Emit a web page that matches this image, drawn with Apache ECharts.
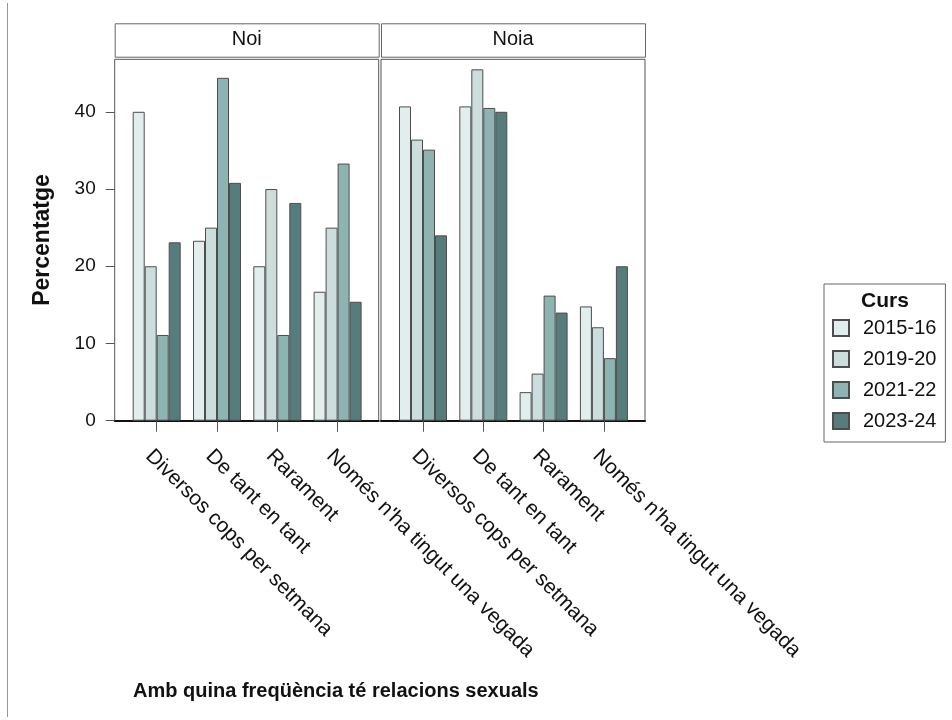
<!DOCTYPE html>
<html>
<head>
<meta charset="utf-8">
<script src="https://cdn.jsdelivr.net/npm/echarts@6/dist/echarts.min.js"></script>
<style>
html,body{margin:0;padding:0;background:#fff;}
#c{width:952px;height:720px;}
</style>
</head>
<body>
<div id="c"></div>
<script>
var categories = ['Diversos cops per setmana', 'De tant en tant', 'Rarament', "Només n'ha tingut una vegada"];
var panels = ['Noi', 'Noia'];
var courses = ['2015-16', '2019-20', '2021-22', '2023-24'];
var yTicks = [0, 10, 20, 30, 40];
var yTitle = 'Percentatge';
var xTitle = 'Amb quina freqüència té relacions sexuals';
var legendTitle = 'Curs';

// values per course, per category
var noi_2015 = [40.0, 23.3, 20.0, 16.7];
var noi_2019 = [20.0, 25.0, 30.0, 25.0];
var noi_2021 = [11.1, 44.4, 11.1, 33.3];
var noi_2023 = [23.1, 30.8, 28.2, 15.4];
var noia_2015 = [40.7, 40.7, 3.7, 14.8];
var noia_2019 = [36.4, 45.5, 6.1, 12.1];
var noia_2021 = [35.1, 40.5, 16.2, 8.1];
var noia_2023 = [24.0, 40.0, 14.0, 20.0];

var colors = ['#e2eeee', '#cbdddc', '#8db4b1', '#567d7b'];
var FONT = 'Arial, "Liberation Sans", sans-serif';
var YMAX = 46.8;

var panelData = [
  [noi_2015, noi_2019, noi_2021, noi_2023],
  [noia_2015, noia_2019, noia_2021, noia_2023]
];

var frameLeft = [114.7, 381];
var frameW = 264;
var frameTop = 59.3;
var frameH = 361.4;
var inset = 11.85;
var bandW = 60.3;

var grids = [], xAxes = [], yAxes = [], series = [], graphics = [];

for (var p = 0; p < 2; p++) {
  // frame grid
  grids.push({left: frameLeft[p], top: frameTop, width: frameW, height: frameH,
    show: true, borderColor: '#555', borderWidth: 1, backgroundColor: '#fff'});
  xAxes.push({type: 'value', gridIndex: 2 * p, min: 0, max: 1, show: true,
    axisLine: {show: true, onZero: false, lineStyle: {color: '#111', width: 2}},
    axisTick: {show: false}, axisLabel: {show: false}, splitLine: {show: false}});
  yAxes.push({type: 'value', gridIndex: 2 * p, min: 0, max: YMAX,
    axisLine: {show: false},
    axisTick: {show: p === 0, length: 9, customValues: yTicks, lineStyle: {color: '#555'}},
    axisLabel: {show: p === 0, fontSize: 19, color: '#111', fontFamily: FONT, margin: 19,
      customValues: yTicks},
    splitLine: {show: false}});
  // data grid
  grids.push({left: frameLeft[p] + inset, top: frameTop, width: bandW * 4, height: frameH});
  xAxes.push({type: 'category', gridIndex: 2 * p + 1, data: categories,
    axisLine: {show: false},
    axisTick: {show: true, alignWithLabel: true, length: 11, lineStyle: {color: '#555'}},
    axisLabel: {rotate: -45, fontSize: 21, color: '#111', fontFamily: FONT, margin: 40, interval: 0,
      padding: [0, 0, 0, -11]},
    splitLine: {show: false}});
  yAxes.push({type: 'value', gridIndex: 2 * p + 1, min: 0, max: YMAX, show: false, splitLine: {show: false}});
  for (var s = 0; s < 4; s++) {
    series.push({type: 'bar', name: courses[s], xAxisIndex: 2 * p + 1, yAxisIndex: 2 * p + 1,
      data: panelData[p][s], barWidth: 12, barGap: '0%',
      itemStyle: {color: colors[s], borderColor: '#4d4d4d', borderWidth: 1},
      emphasis: {disabled: true}});
  }
  // strip
  graphics.push({type: 'rect', left: frameLeft[p], top: 23.3,
    shape: {width: frameW, height: 33.4},
    style: {fill: '#fff', stroke: '#666', lineWidth: 1}});
  graphics.push({type: 'text', x: frameLeft[p] + frameW / 2, y: 39,
    style: {text: panels[p], fill: '#111', font: '20px ' + FONT, textAlign: 'center', textVerticalAlign: 'middle'}});
}

graphics.push({type: 'text', x: 42.5, y: 240, rotation: Math.PI / 2,
  style: {text: yTitle, fill: '#111', font: 'bold 23px ' + FONT, textAlign: 'center', textVerticalAlign: 'middle'}});
graphics.push({type: 'text', x: 133, y: 691,
  style: {text: xTitle, fill: '#111', font: 'bold 20px ' + FONT, textAlign: 'left', textVerticalAlign: 'middle'}});
graphics.push({type: 'text', x: 885, y: 301,
  style: {text: legendTitle, fill: '#111', font: 'bold 21px ' + FONT, textAlign: 'center', textVerticalAlign: 'middle'}});
graphics.push({type: 'line', shape: {x1: 7.5, y1: 3, x2: 7.5, y2: 717},
  style: {stroke: '#999', lineWidth: 1}});

var chart = echarts.init(document.getElementById('c'), null, {renderer: 'canvas'});
chart.setOption({
  animation: false,
  backgroundColor: '#fff',
  grid: grids,
  xAxis: xAxes,
  yAxis: yAxes,
  series: series,
  legend: {
    data: courses, orient: 'vertical', left: 824, top: 284,
    padding: [34, 9, 11, 8], itemWidth: 16, itemHeight: 16, itemGap: 11,
    borderColor: '#666', borderWidth: 1,
    icon: 'rect', selectedMode: false,
    textStyle: {fontSize: 20, color: '#111', fontFamily: FONT, padding: [0, 0, 0, 9]}
  },
  graphic: graphics
});
</script>
</body>
</html>
